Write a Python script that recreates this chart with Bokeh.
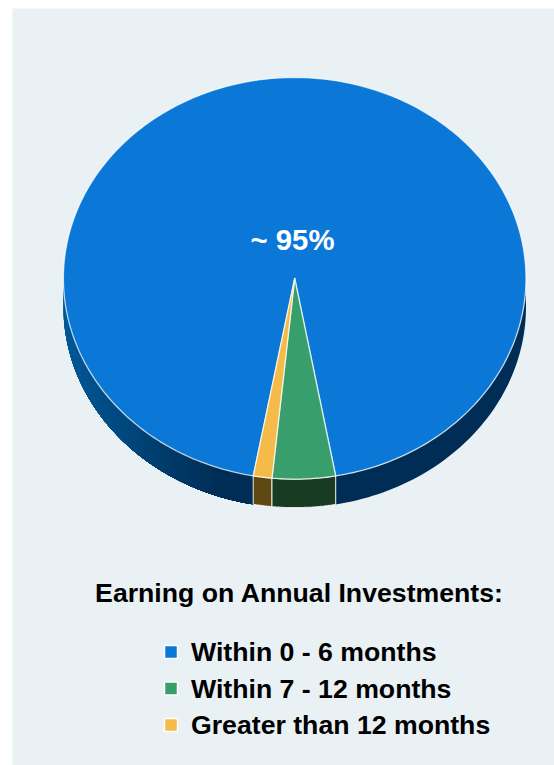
import math
from bokeh.plotting import figure
from bokeh.models import Range1d
from bokeh.core.properties import value
from bokeh.embed import file_html
from bokeh.resources import INLINE

categories = ["Within 0 - 6 months", "Within 7 - 12 months", "Greater than 12 months"]
shares = [94.3, 4.4, 1.3]
colors = ["#0b78d8", "#389f6c", "#f4bb4a"]
wall_colors = ["#002d55", "#173c22", "#5f4713"]
center_label = "~ 95%"
legend_title = "Earning on Annual Investments:"

CX, CY, RX, RY, DEPTH = 294.2, 277.8, 231.3, 200.8, 28.5
PANEL = "#e9f1f5"
EDGE = "#ffffff"
FONT = "Liberation Sans"

p = figure(width=554, height=765, output_backend="svg", toolbar_location=None,
           x_range=Range1d(12, 554), y_range=Range1d(765, 8),
           min_border_left=12, min_border_right=0, min_border_top=8, min_border_bottom=0,
           background_fill_color=PANEL, border_fill_color="#ffffff", outline_line_color=None)
p.axis.visible = False
p.grid.visible = False


def pt(phi, dy=0.0):
    return CX + RX * math.sin(phi), CY + RY * math.cos(phi) + dy


def arc(a0, a1, n):
    return [a0 + (a1 - a0) * i / n for i in range(n + 1)]


# slice boundaries; phi = 0 is the bottom of the ellipse, green starts right of it
total = sum(shares)
bounds = {}
a = math.radians(10.2)
for idx in (1, 2, 0):
    b = a - 2 * math.pi * shares[idx] / total
    bounds[idx] = (a, b)
    a = b


def mix(c0, c1, t):
    t = max(0.0, min(1.0, t))
    return "#%02x%02x%02x" % tuple(round(u + (v - u) * t) for u, v in zip(c0, c1))


def wall(a0, a1, n=60):
    steps = arc(a0, a1, n)
    top = [pt(t) for t in steps]
    bot = [pt(t, DEPTH) for t in reversed(steps)]
    return [q[0] for q in top + bot], [q[1] for q in top + bot]


# right part of the blue wall is a flat dark colour
wx, wy = wall(bounds[1][0], math.pi / 2 + 0.03)
p.patch(wx, wy, fill_color="#002d55", line_color=None)

# left part: nested polygons, lightest first, so no seams show between shades
left_c, dark_c = (0, 88, 150), (0, 45, 85)
far_left = -math.pi / 2 - 0.03
near = bounds[2][1]
for t0 in arc(far_left, near, 48)[:-1]:
    x0, _ = pt(t0)
    wx, wy = wall(t0, near, 40)
    shade = mix(left_c, dark_c, (x0 - 63) / 150)
    p.patch(wx, wy, fill_color=shade, line_color=None)

# green and yellow walls
for idx in (2, 1):
    wx, wy = wall(bounds[idx][0], bounds[idx][1], 16)
    p.patch(wx, wy, fill_color=wall_colors[idx], line_color=EDGE, line_alpha=0.75, line_width=1.2)

# top faces
for idx in (0, 1, 2):
    a0, a1 = bounds[idx]
    steps = arc(a0, a1, 300 if idx == 0 else 20)
    pts = [(CX, CY)] + [pt(t) for t in steps]
    p.patch([q[0] for q in pts], [q[1] for q in pts], fill_color=colors[idx],
            line_color=EDGE, line_alpha=0.72, line_width=1.3, line_join="round")

p.text([292], [239], text=[center_label], text_color="#ffffff",
       text_font=value(FONT), text_font_style="bold", text_font_size="29.3px",
       text_align="center", text_baseline="middle")

p.text([299], [592], text=[legend_title], text_color="#000000",
       text_font=value(FONT), text_font_style="bold", text_font_size="26.67px",
       text_align="center", text_baseline="middle")

rows = [651.5 + 36.5 * i for i in range(len(categories))]
p.scatter([170.5] * 3, rows, marker="square", size=13, fill_color=colors,
          line_color="#ffffff", line_width=1.5)
p.text([190.5] * 3, rows, text=categories, text_color="#000000",
       text_font=value(FONT), text_font_style="bold", text_font_size="26.67px",
       text_align="left", text_baseline="middle")

open("out.html", "w").write(file_html(p, INLINE))
